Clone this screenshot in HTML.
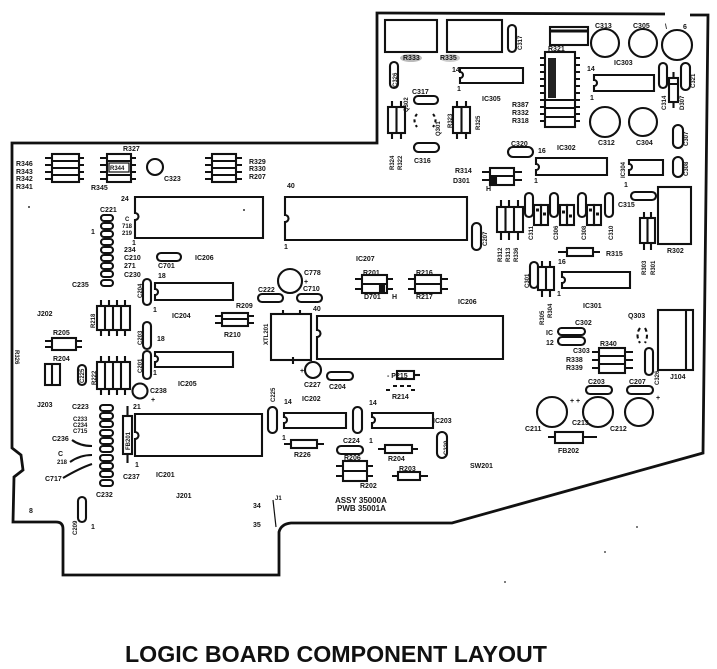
<!DOCTYPE html>
<html><head><meta charset="utf-8"><style>
html,body{margin:0;padding:0;background:#fff;}
svg{display:block;}
text{font-family:"Liberation Sans",Arial,sans-serif;font-weight:bold;fill:#151515;}
.t{font-size:7px;}
.s{font-size:6px;}
</style></head><body>
<svg width="717" height="669" viewBox="0 0 717 669" xmlns="http://www.w3.org/2000/svg">
<rect width="717" height="669" fill="#fff"/>
<!-- Board outline -->
<path d="M665,14 L377,13 L377,143 L12,143 L12,448 L21,455 L23,470 L14,477 L13,522 L56,522 Q63,522 63,529 L63,575 L279,575 L279,532 Q281,524 291,523 L452,523 L703,453 L708,15 L690,15" fill="none" stroke="#111" stroke-width="2.8"/>

<g fill="none" stroke="#111" stroke-width="2.1">
<!-- Top-left resistor networks -->
<rect x="52" y="154" width="27" height="28"/><path d="M52,161H79M52,168H79M52,175H79M45,158H52M45,165H52M45,172H52M45,179H52M79,158H84M79,165H84M79,172H84M79,179H84"/>
<rect x="107" y="154" width="24" height="28"/><path d="M107,161H131M107,175H131M100,158H107M100,165H107M100,172H107M100,179H107M131,158H136M131,165H136M131,172H136M131,179H136"/>
<rect x="212" y="154" width="24" height="28"/><path d="M212,161H236M212,168H236M212,175H236M205,158H212M205,165H212M205,172H212M205,179H212M236,158H242M236,165H242M236,172H242M236,179H242"/>
<circle cx="155" cy="167" r="8"/>
<!-- ICs top row -->
<path d="M135,197H263V238H135V220A3.5,3.5 0 0 0 135,213Z"/>
<path d="M285,197H467V240H285V222A3.5,3.5 0 0 0 285,215Z"/>
<!-- oval column 1 -->
<rect x="101" y="215" width="12" height="6" rx="3"/><rect x="101" y="223" width="12" height="6" rx="3"/><rect x="101" y="231" width="12" height="6" rx="3"/><rect x="101" y="239" width="12" height="6" rx="3"/><rect x="101" y="247" width="12" height="6" rx="3"/><rect x="101" y="255" width="12" height="6" rx="3"/><rect x="101" y="263" width="12" height="6" rx="3"/><rect x="101" y="271" width="12" height="6" rx="3"/><rect x="101" y="280" width="12" height="6" rx="3"/>
<rect x="157" y="253" width="24" height="8" rx="4"/>
<!-- IC204 area -->
<rect x="143" y="279" width="8" height="26" rx="4"/>
<path d="M155,283H233V300H155V295A3,3 0 0 0 155,289Z"/>
<rect x="97" y="306" width="33" height="24"/><path d="M105,306V330M113,306V330M121,306V330M101,300V306M109,300V306M117,300V306M125,300V306M101,330V336M109,330V336M117,330V336M125,330V336"/>
<rect x="222" y="313" width="26" height="13"/><path d="M222,319H248M215,316H222M215,323H222M248,316H254M248,323H254"/>
<rect x="143" y="322" width="8" height="27" rx="4"/>
<rect x="143" y="351" width="8" height="28" rx="4"/>
<path d="M155,352H233V367H155V362A3,3 0 0 0 155,356Z"/>
<rect x="52" y="338" width="24" height="12"/><path d="M45,341H52M45,347H52M76,341H82M76,347H82"/>
<rect x="45" y="364" width="15" height="21"/><path d="M52,364V385"/>
<rect x="78" y="365" width="8" height="20" rx="4"/>
<rect x="97" y="362" width="33" height="27"/><path d="M105,362V389M113,362V389M121,362V389M101,356V362M109,356V362M117,356V362M125,356V362M101,389V395M109,389V395M117,389V395M125,389V395"/>
<circle cx="140" cy="391" r="7.5"/>
<!-- oval column 2 -->
<rect x="100" y="405" width="13" height="6" rx="3"/><rect x="100" y="413" width="13" height="6" rx="3"/><rect x="100" y="421" width="13" height="6" rx="3"/><rect x="100" y="430" width="13" height="6" rx="3"/><rect x="100" y="438" width="13" height="6" rx="3"/><rect x="100" y="446" width="13" height="6" rx="3"/><rect x="100" y="455" width="13" height="6" rx="3"/><rect x="100" y="463" width="13" height="6" rx="3"/><rect x="100" y="471" width="13" height="6" rx="3"/><rect x="100" y="480" width="13" height="6" rx="3"/>
<path d="M72,440Q80,446 92,446M70,462Q80,455 92,455M63,478Q80,468 92,464"/>
<rect x="123" y="416" width="9" height="38"/><path d="M127.5,406V416M127.5,454V463"/>
<path d="M135,414H262V456H135V439A3.5,3.5 0 0 0 135,432Z"/>
<rect x="78" y="497" width="8" height="25" rx="4"/>
<path d="M273,500L276,527" stroke-width="1.2"/>
<!-- Middle -->
<rect x="258" y="294" width="25" height="8" rx="4"/>
<circle cx="290" cy="281" r="12"/>
<rect x="297" y="294" width="25" height="8" rx="4"/>
<rect x="271" y="314" width="40" height="46"/><path d="M283,310V314M300,310V314M293,357V364"/>
<path d="M317,316H503V359H317V337A3.5,3.5 0 0 0 317,330Z"/>
<rect x="362" y="275" width="25" height="18"/><path d="M362,284H387M355,279H362M355,289H362M387,279H393M387,289H393"/>
<rect x="380" y="285" width="4" height="7" fill="#111"/>
<rect x="415" y="275" width="26" height="18"/><path d="M415,284H441M408,279H415M408,289H415M441,279H448M441,289H448"/>
<rect x="472" y="223" width="9" height="27" rx="4.5"/>
<circle cx="313" cy="370" r="8"/>
<rect x="327" y="372" width="26" height="8" rx="4"/>
<rect x="268" y="407" width="9" height="26" rx="4.5"/>
<path d="M284,413H346V428H284V423A3,3 0 0 0 284,417Z"/>
<rect x="291" y="440" width="26" height="8"/><path d="M284,444H291M317,444H324"/>
<rect x="353" y="407" width="9" height="26" rx="4.5"/>
<path d="M372,413H433V428H372V423A3,3 0 0 0 372,417Z"/>
<rect x="337" y="446" width="26" height="8" rx="4"/>
<rect x="343" y="461" width="24" height="20"/><path d="M343,471H367M336,466H343M336,476H343M367,466H373M367,476H373"/>
<rect x="385" y="445" width="27" height="8"/><path d="M378,449H385M412,449H418"/>
<rect x="398" y="472" width="22" height="8"/><path d="M392,476H398M420,476H428"/>
<rect x="437" y="432" width="10" height="26" rx="5"/>
<rect x="397" y="371" width="17" height="8"/><path d="M414,375H420"/>
<path d="M393,386H411M386,390H393M411,390H418" stroke-dasharray="4,3"/>
<!-- Upper board -->
<rect x="385" y="20" width="52" height="32"/>
<rect x="447" y="20" width="55" height="32"/>
<rect x="508" y="25" width="8" height="27" rx="4"/>
<rect x="390" y="62" width="8" height="26" rx="4"/>
<path d="M460,68H523V83H460V78A3,3 0 0 0 460,72Z"/>
<rect x="414" y="96" width="24" height="8" rx="4"/>
<rect x="388" y="107" width="17" height="26"/><path d="M396.5,107V133M392,101V107M401,101V107M392,133V139M401,133V139"/>
<rect x="453" y="107" width="17" height="26"/><path d="M461.5,107V133M457,101V107M466,101V107M457,133V139M466,133V139"/>
<path d="M417,114Q412,120 417,127M433,114Q438,120 433,127" stroke-dasharray="3,3"/>
<rect x="414" y="143" width="25" height="9" rx="4.5"/>
<rect x="490" y="168" width="24" height="17"/><path d="M490,176H514M482,172H490M482,180H490M514,172H522M514,180H522"/>
<rect x="492" y="177" width="4" height="7" fill="#111"/>
<rect x="550" y="27" width="38" height="18"/><path d="M550,31H588" stroke-width="3"/>
<circle cx="605" cy="43" r="14"/><circle cx="643" cy="43" r="14"/><circle cx="677" cy="45" r="15"/>
<rect x="545" y="52" width="30" height="75"/>
<path d="M545,100H575M545,108H575M545,117H575M540,58H545M540,65H545M540,72H545M540,79H545M540,86H545M540,93H545M540,100H545M540,107H545M540,114H545M540,121H545M575,58H580M575,65H580M575,72H580M575,79H580M575,86H580M575,93H580M575,100H580M575,107H580M575,114H580M575,121H580"/>
<rect x="548" y="58" width="8" height="40" fill="#222" stroke="none"/>
<path d="M594,75H654V91H594V86A3,3 0 0 0 594,80Z"/>
<rect x="659" y="63" width="8" height="25" rx="4"/>
<rect x="669" y="78" width="9" height="24"/><path d="M669,84H678M673.5,72V78M673.5,102V108"/>
<rect x="681" y="63" width="9" height="27" rx="4.5"/>
<circle cx="605" cy="122" r="15"/><circle cx="643" cy="122" r="14"/>
<rect x="673" y="125" width="10" height="23" rx="5"/>
<rect x="673" y="157" width="10" height="20" rx="5"/>
<rect x="508" y="147" width="25" height="10" rx="5"/>
<path d="M536,158H607V175H536V170A3,3 0 0 0 536,164Z"/>
<path d="M629,160H663V175H629V170A3,3 0 0 0 629,164Z"/>
<!-- right-middle -->
<rect x="497" y="207" width="26" height="25"/><path d="M505.5,207V232M514,207V232M501,200V207M509,200V207M518,200V207M501,232V240M509,232V240M518,232V240"/>
<rect x="525" y="193" width="8" height="24" rx="4"/><rect x="550" y="193" width="8" height="24" rx="4"/><rect x="578" y="193" width="8" height="24" rx="4"/><rect x="605" y="193" width="8" height="24" rx="4"/>
<rect x="534" y="205" width="7" height="20"/><rect x="541" y="205" width="7" height="20"/><rect x="560" y="205" width="7" height="20"/><rect x="567" y="205" width="7" height="20"/><rect x="587" y="205" width="7" height="20"/><rect x="594" y="205" width="7" height="20"/>
<path d="M536,210h3M543,214h3M562,212h3M569,216h3M589,210h3M596,214h3" stroke-width="3"/>
<rect x="631" y="192" width="25" height="8" rx="4"/>
<rect x="658" y="187" width="33" height="57"/>
<rect x="640" y="218" width="15" height="25"/><path d="M647.5,218V243M644,212V218M651,212V218M644,243V250M651,243V250"/>
<rect x="567" y="248" width="26" height="8"/><path d="M558,252H567M593,252H600"/>
<rect x="530" y="262" width="8" height="26" rx="4"/>
<rect x="538" y="267" width="16" height="23"/><path d="M546,267V290M542,261V267M550,261V267M542,290V297M550,290V297"/>
<path d="M562,272H630V288H562V283A3,3 0 0 0 562,277Z"/>
<path d="M640,328Q635,335 640,343M645,328Q649,335 645,343" stroke-dasharray="4,3"/>
<rect x="658" y="310" width="35" height="60"/><path d="M686,310V370"/>
<rect x="645" y="348" width="8" height="27" rx="4"/>
<rect x="558" y="328" width="27" height="7" rx="3.5"/><rect x="558" y="337" width="27" height="8" rx="4"/>
<rect x="599" y="348" width="26" height="25"/><path d="M599,356H625M599,364H625M592,352H599M592,360H599M592,368H599M625,352H633M625,360H633M625,368H633"/>
<rect x="586" y="386" width="26" height="8" rx="4"/><rect x="627" y="386" width="26" height="8" rx="4"/>
<circle cx="552" cy="412" r="15"/><circle cx="598" cy="412" r="15"/><circle cx="639" cy="412" r="14"/>
<rect x="555" y="432" width="28" height="11"/><path d="M548,437H555M583,437H597"/>
</g>

<!-- gray smudges -->
<ellipse cx="411" cy="58" rx="11" ry="4" fill="#bbb"/>
<ellipse cx="450" cy="58" rx="10" ry="4" fill="#ccc"/>
<rect x="109" y="163" width="20" height="9" fill="#fff" stroke="#111" stroke-width="1.2"/>

<!-- Labels -->
<g class="t">
<text x="16" y="166">R346</text><text x="16" y="174">R343</text><text x="16" y="181">R342</text><text x="16" y="189">R341</text>
<text x="123" y="151">R327</text><text x="110" y="170" class="s">R344</text><text x="91" y="190">R345</text>
<text x="164" y="181">C323</text>
<text x="249" y="164">R329</text><text x="249" y="171">R330</text><text x="249" y="179">R207</text>
<text x="287" y="188">40</text><text x="121" y="201">24</text>
<text x="125" y="221" class="s">C</text><text x="122" y="228" class="s">718</text><text x="122" y="235" class="s">219</text>
<text x="132" y="245">1</text><text x="284" y="249">1</text>
<text x="100" y="212">C221</text><text x="91" y="234">1</text>
<text x="124" y="252">234</text><text x="124" y="260">C210</text><text x="124" y="268">271</text><text x="124" y="277">C230</text>
<text x="158" y="268">C701</text><text x="158" y="278">18</text><text x="195" y="260">IC206</text>
<text x="72" y="287">C235</text>
<text x="153" y="312">1</text><text x="172" y="318">IC204</text><text x="37" y="316">J202</text>
<text x="236" y="308">R209</text><text x="224" y="337">R210</text>
<text x="157" y="341">18</text><text x="153" y="375">1</text><text x="178" y="386">IC205</text>
<text x="53" y="335">R205</text><text x="53" y="361">R204</text>
<text x="37" y="407">J203</text><text x="150" y="393">C238</text><text x="151" y="402">+</text>
<text x="72" y="409">C223</text><text x="133" y="409">21</text>
<text x="73" y="421" class="s">C233</text><text x="73" y="427" class="s">C234</text><text x="73" y="433" class="s">C715</text>
<text x="52" y="441">C236</text><text x="58" y="456">C</text><text x="57" y="464" class="s">218</text><text x="45" y="481">C717</text>
<text x="135" y="467">1</text><text x="123" y="479">C237</text><text x="156" y="477">IC201</text>
<text x="96" y="497">C232</text><text x="176" y="498">J201</text><text x="29" y="513">8</text><text x="91" y="529">1</text>
<text x="253" y="508">34</text><text x="275" y="500" class="s">J1</text><text x="253" y="527">35</text>
<text x="258" y="292">C222</text><text x="304" y="275">C778</text><text x="304" y="284">+</text><text x="303" y="291">C710</text>
<text x="313" y="311">40</text><text x="356" y="261">IC207</text>
<text x="363" y="275">R201</text><text x="364" y="299">D701</text><text x="392" y="299">H</text>
<text x="416" y="275">R216</text><text x="416" y="299">R217</text><text x="458" y="304">IC206</text>
<text x="300" y="373">+</text><text x="304" y="387">C227</text><text x="329" y="389">C204</text>
<text x="302" y="401">IC202</text><text x="284" y="404">14</text><text x="282" y="440">1</text>
<text x="294" y="457">R226</text><text x="369" y="405">14</text><text x="433" y="423">IC203</text>
<text x="343" y="443">C224</text><text x="369" y="443">1</text>
<text x="344" y="460">R206</text><text x="360" y="488">R202</text>
<text x="388" y="461">R204</text><text x="399" y="471">R203</text>
<text x="387" y="378">- P215</text><text x="392" y="399">R214</text>
<text x="335" y="503" style="font-size:8px">ASSY 35000A</text>
<text x="337" y="511" style="font-size:8px">PWB 35001A</text>
<text x="470" y="468">SW201</text>
<text x="403" y="60">R333</text><text x="440" y="60">R335</text>
<text x="452" y="72">14</text><text x="457" y="91">1</text><text x="482" y="101">IC305</text>
<text x="412" y="94">C317</text><text x="414" y="163">C316</text>
<text x="455" y="173">R314</text><text x="453" y="183">D301</text><text x="486" y="191">H</text>
<text x="595" y="28">C313</text><text x="633" y="28">C305</text><text x="665" y="29">\</text><text x="683" y="29">6</text>
<text x="614" y="65">IC303</text><text x="548" y="51">R321</text>
<text x="512" y="107">R387</text><text x="512" y="115">R332</text><text x="512" y="123">R318</text>
<text x="587" y="71">14</text><text x="590" y="100">1</text>
<text x="598" y="145">C312</text><text x="636" y="145">C304</text>
<text x="511" y="146">C320</text><text x="538" y="153">16</text><text x="557" y="150">IC302</text>
<text x="534" y="183">1</text><text x="624" y="187">1</text>
<text x="618" y="207">C315</text><text x="667" y="253">R302</text>
<text x="606" y="256">R315</text><text x="558" y="264">16</text><text x="557" y="296">1</text>
<text x="583" y="308">IC301</text><text x="628" y="318">Q303</text><text x="670" y="379">J104</text>
<text x="546" y="335">IC</text><text x="546" y="345">12</text>
<text x="575" y="325">C302</text><text x="573" y="353">C303</text>
<text x="600" y="346">R340</text><text x="566" y="362">R338</text><text x="566" y="370">R339</text>
<text x="588" y="384">C203</text><text x="629" y="384">C207</text>
<text x="570" y="403">+ +</text><text x="656" y="400">+</text>
<text x="525" y="431">C211</text><text x="572" y="425">C213</text><text x="610" y="431">C212</text>
<text x="558" y="453">FB202</text>
</g>
<!-- vertical labels -->
<g class="s">
<text transform="translate(142,298) rotate(-90)">C204</text>
<text transform="translate(95,328) rotate(-90)">R218</text>
<text transform="translate(142,345) rotate(-90)">C203</text>
<text transform="translate(142,373) rotate(-90)">C201</text>
<text transform="translate(84,383) rotate(-90)">C225</text>
<text transform="translate(96,385) rotate(-90)">R222</text>
<text transform="translate(130,450) rotate(-90)">FB201</text>
<text transform="translate(77,535) rotate(-90)">C209</text>
<text transform="translate(15,350) rotate(90)">R326</text>
<text transform="translate(268,345) rotate(-90)">XTL201</text>
<text transform="translate(487,246) rotate(-90)">C207</text>
<text transform="translate(275,402) rotate(-90)">C225</text>
<text transform="translate(448,455) rotate(-90)">C229</text>
<text transform="translate(522,50) rotate(-90)">C317</text>
<text transform="translate(397,87) rotate(-90)">C326</text>
<text transform="translate(408,112) rotate(-90)">Q302</text>
<text transform="translate(452,128) rotate(-90)">R323</text>
<text transform="translate(480,130) rotate(-90)">R325</text>
<text transform="translate(440,136) rotate(-90)">Q301</text>
<text transform="translate(394,170) rotate(-90)">R324</text>
<text transform="translate(402,170) rotate(-90)">R322</text>
<text transform="translate(666,110) rotate(-90)">C314</text>
<text transform="translate(684,110) rotate(-90)">D307</text>
<text transform="translate(695,88) rotate(-90)">C321</text>
<text transform="translate(688,146) rotate(-90)">C307</text>
<text transform="translate(688,176) rotate(-90)">C308</text>
<text transform="translate(625,178) rotate(-90)">IC304</text>
<text transform="translate(502,262) rotate(-90)">R312</text>
<text transform="translate(510,262) rotate(-90)">R313</text>
<text transform="translate(518,262) rotate(-90)">R336</text>
<text transform="translate(533,240) rotate(-90)">C311</text>
<text transform="translate(558,240) rotate(-90)">C306</text>
<text transform="translate(586,240) rotate(-90)">C308</text>
<text transform="translate(613,240) rotate(-90)">C310</text>
<text transform="translate(646,275) rotate(-90)">R303</text>
<text transform="translate(655,275) rotate(-90)">R301</text>
<text transform="translate(529,288) rotate(-90)">C301</text>
<text transform="translate(544,325) rotate(-90)">R305</text>
<text transform="translate(552,318) rotate(-90)">R304</text>
<text transform="translate(659,385) rotate(-90)">C326</text>
</g>
<!-- specks -->
<circle cx="29" cy="207" r="1" fill="#333"/><circle cx="244" cy="210" r="1" fill="#333"/>
<circle cx="637" cy="527" r="1" fill="#555"/><circle cx="605" cy="552" r="1" fill="#555"/><circle cx="505" cy="582" r="1" fill="#555"/>
<!-- Title -->
<text x="125" y="662" textLength="422" lengthAdjust="spacingAndGlyphs" style="font-size:23px;fill:#111;">LOGIC BOARD COMPONENT LAYOUT</text>
</svg>
</body></html>
